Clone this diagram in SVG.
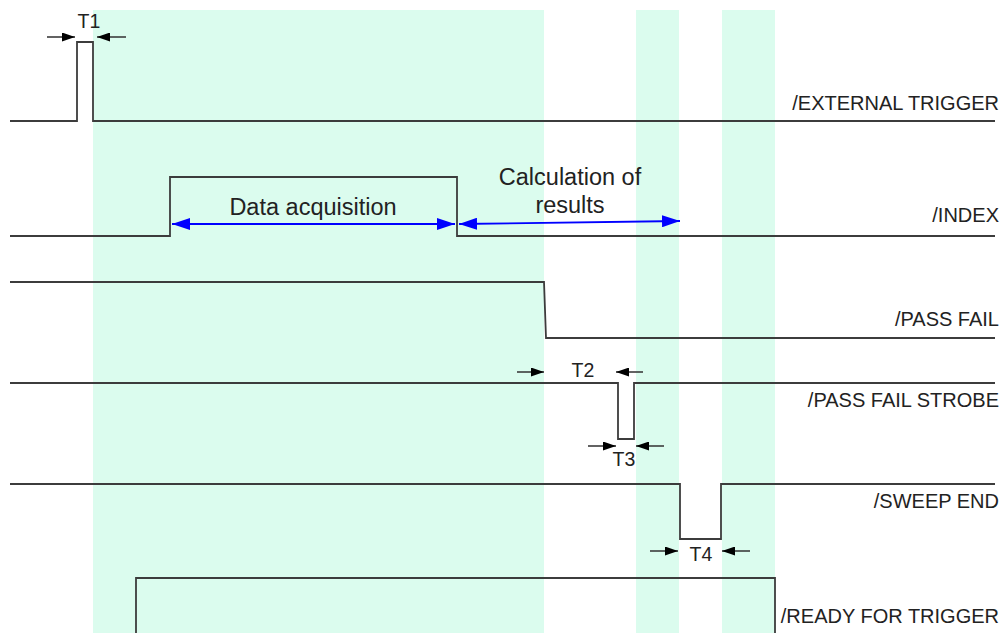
<svg xmlns="http://www.w3.org/2000/svg" width="1003" height="633" viewBox="0 0 1003 633">
<defs>
<style>
.band{fill:#dbfcee}
.sig{fill:none;stroke:#3c3c3c;stroke-width:1.8}
.dim{stroke:#3c3c3c;stroke-width:1.6;fill:none}
.blue{stroke:#0000ff;stroke-width:1.8;fill:none}
.lbl{font-family:"Liberation Sans",Arial,sans-serif;font-size:20px;fill:#222;text-anchor:end}
.t{font-family:"Liberation Sans",Arial,sans-serif;font-size:19.5px;fill:#222;text-anchor:middle}
.c{font-family:"Liberation Sans",Arial,sans-serif;font-size:23.5px;fill:#222;text-anchor:middle}
</style>
<marker id="ah" viewBox="0 0 13 9" refX="13" refY="4.5" markerWidth="13" markerHeight="9" markerUnits="userSpaceOnUse" orient="auto"><path d="M0,0 L13,4.5 L0,9 Z" fill="#000"/></marker>
<marker id="bh" viewBox="0 0 18 12" refX="18" refY="6" markerWidth="18" markerHeight="12" markerUnits="userSpaceOnUse" orient="auto-start-reverse"><path d="M0,0 L18,6 L0,12 Z" fill="#0000ff"/></marker>
</defs>
<rect width="1003" height="633" fill="#fff"/>
<g id="bands">
<rect class="band" x="93" y="10" width="451" height="623"/>
<rect class="band" x="636" y="10" width="43" height="623"/>
<rect class="band" x="722" y="10" width="53" height="623"/>
</g>
<g id="connectors">
<path class="sig" d="M10,121 H77 V42 H93 V121 H995"/>
<path class="sig" d="M10,236 H170 V177 H457 V236 H995"/>
<path class="sig" d="M10,282 H544 L546,338 H995"/>
<path class="sig" d="M10,383 H618 V439 H634 V383 H995"/>
<path class="sig" d="M10,484 H680 V539 H721 V484 H995"/>
<path class="sig" d="M136,633 V578 H775 V633"/>
<line class="dim" x1="47" y1="37" x2="75" y2="37" marker-end="url(#ah)"/>
<line class="dim" x1="126" y1="37" x2="97" y2="37" marker-end="url(#ah)"/>
<line class="dim" x1="517" y1="372" x2="544" y2="372" marker-end="url(#ah)"/>
<line class="dim" x1="643" y1="372" x2="616" y2="372" marker-end="url(#ah)"/>
<line class="dim" x1="588" y1="446" x2="616" y2="446" marker-end="url(#ah)"/>
<line class="dim" x1="664" y1="446" x2="636" y2="446" marker-end="url(#ah)"/>
<line class="dim" x1="650" y1="551" x2="678" y2="551" marker-end="url(#ah)"/>
<line class="dim" x1="750" y1="551" x2="722" y2="551" marker-end="url(#ah)"/>
<line class="blue" x1="172" y1="224" x2="455" y2="224" marker-start="url(#bh)" marker-end="url(#bh)"/>
<line class="blue" x1="459" y1="224" x2="680" y2="221" marker-start="url(#bh)" marker-end="url(#bh)"/>
</g>
<g id="timing-labels">
<text class="t" x="89" y="28">T1</text>
<text class="t" x="583" y="377">T2</text>
<text class="t" x="624" y="466">T3</text>
<text class="t" x="701" y="561">T4</text>
<text class="c" x="313" y="215">Data acquisition</text>
<text class="c" x="570" y="185">Calculation of</text>
<text class="c" x="570" y="213">results</text>
</g>
<g id="signal-external-trigger"><text class="lbl" x="999" y="110">/EXTERNAL TRIGGER</text></g>
<g id="signal-index"><text class="lbl" x="999" y="222">/INDEX</text></g>
<g id="signal-pass-fail"><text class="lbl" x="999" y="326">/PASS FAIL</text></g>
<g id="signal-pass-fail-strobe"><text class="lbl" x="999" y="407">/PASS FAIL STROBE</text></g>
<g id="signal-sweep-end"><text class="lbl" x="999" y="508">/SWEEP END</text></g>
<g id="signal-ready-for-trigger"><text class="lbl" x="999" y="623">/READY FOR TRIGGER</text></g>
</svg>
